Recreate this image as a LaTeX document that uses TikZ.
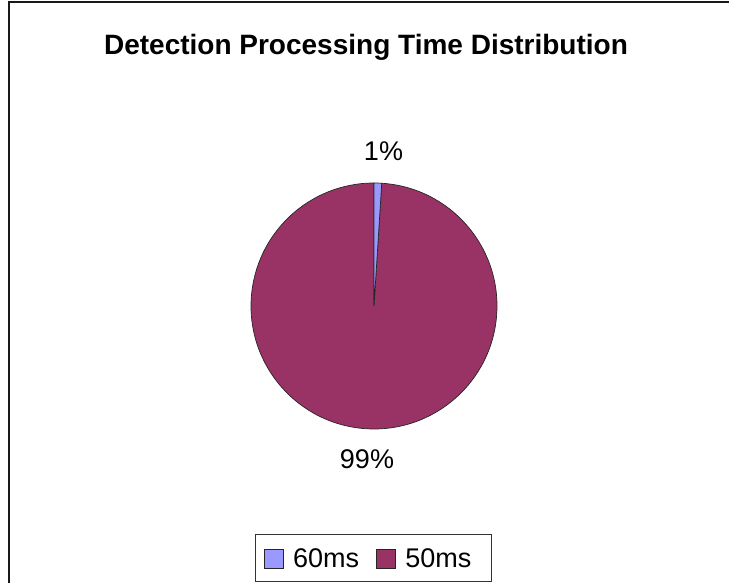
\documentclass[tikz,border=0pt]{standalone}
\usepackage{fontspec}
\setmainfont{Liberation Sans}
\usetikzlibrary{positioning}
\definecolor{pieblue}{HTML}{9999FF}
\definecolor{piemaroon}{HTML}{993366}
\begin{document}
\begin{tikzpicture}[
    x=1pt, y=1pt,
    lab/.style={inner sep=0pt, font=\fontsize{27}{32}\selectfont},
    head/.style={inner sep=0pt, font=\fontsize{28}{34}\selectfont\bfseries},
    slice/.style={draw=black!85, line width=0.7pt},
    key/.style={draw=black!85, line width=0.8pt, minimum size=19pt, inner sep=0pt},
    legbox/.style={draw=black!80, line width=1pt, minimum width=236pt, minimum height=47pt, inner sep=0pt}]
  \useasboundingbox (0,0) rectangle (729,583);
  \clip (0,0) rectangle (729,583);
  % chart frame (cut off at the right and bottom)
  \draw[line width=2pt, black!90] (9,-5) -- (9,581) -- (740,581);
  \node[head, anchor=base] (title) at (366,528.5) {Detection Processing Time Distribution};
  % pie
  \coordinate (c) at (374,277);
  \filldraw[slice, fill=piemaroon] (c) -- ++(86.4:123) arc[start angle=86.4, end angle=-270, radius=123] -- cycle;
  \filldraw[slice, fill=pieblue] (c) -- ++(90:123) arc[start angle=90, end angle=86.4, radius=123] -- cycle;
  \node[lab, anchor=base] (p60) at (383.5,422) {1\%};
  \node[lab, anchor=base] (p50) at (367,114) {99\%};
  % legend
  \node[legbox] (leg) at (373,24.5) {};
  \node[key, fill=pieblue] (k60) at (274,24.5) {};
  \node[lab, right=9pt of k60] (t60) {60ms};
  \node[key, fill=piemaroon, right=17pt of t60] (k50) {};
  \node[lab, right=9pt of k50] (t50) {50ms};
\end{tikzpicture}
\end{document}
